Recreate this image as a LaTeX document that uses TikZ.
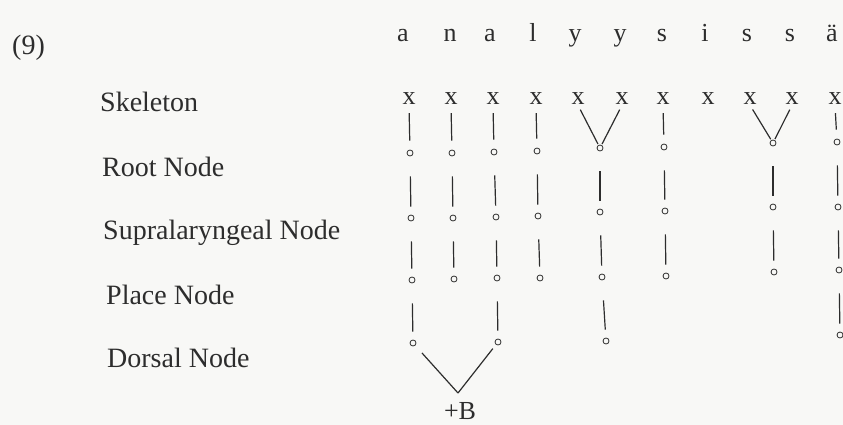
\documentclass[tikz,border=0pt]{standalone}
\usepackage{fontspec}
\setmainfont{Liberation Serif}
\definecolor{ink}{RGB}{45,45,45}
\definecolor{paper}{RGB}{248,248,246}
\begin{document}
\begin{tikzpicture}[x={(1pt,0)},y={(0,-1pt)},
  lbl/.style={anchor=base west,inner sep=0pt,text=ink,font=\fontsize{28}{30}\selectfont},
  seg/.style={anchor=base,inner sep=0pt,text=ink,font=\fontsize{26}{28}\selectfont},
  dot/.style={circle,draw=ink,line width=0.8pt,minimum size=6pt,inner sep=0pt},
  edge/.style={draw=ink,line width=1.2pt},
  xedge/.style={edge,shorten <=8pt,shorten >=9pt},
  vedge/.style={edge,shorten <=5pt,shorten >=1pt},
  dedge/.style={edge,shorten <=20pt,shorten >=8pt}]
\fill[paper] (0,0) rectangle (843,425);
\useasboundingbox (0,0) rectangle (843,425);
% labels
\node[lbl] (num) at (12,55) {(9)};
\node[lbl] (lskel) at (100,112) {Skeleton};
\node[lbl] (lroot) at (102,176) {Root Node};
\node[lbl] (lsupra) at (103,239) {Supralaryngeal Node};
\node[lbl] (lplace) at (106,304) {Place Node};
\node[lbl] (ldors) at (107,367) {Dorsal Node};
% segments
\node[seg] (s1) at (403,42) {a};
\node[seg] (s2) at (450,42) {n};
\node[seg] (s3) at (490,42) {a};
\node[seg] (s4) at (533,42) {l};
\node[seg] (s5) at (575,42) {y};
\node[seg] (s6) at (620,42) {y};
\node[seg] (s7) at (662,42) {s};
\node[seg] (s8) at (705,42) {i};
\node[seg] (s9) at (747,42) {s};
\node[seg] (s10) at (790,42) {s};
\node[seg] (s11) at (832,42) {ä};
% skeleton
\node[seg] (x1) at (409,105) {x};
\node[seg] (x2) at (451,105) {x};
\node[seg] (x3) at (493,105) {x};
\node[seg] (x4) at (536,105) {x};
\node[seg] (x5) at (578,105) {x};
\node[seg] (x6) at (622,105) {x};
\node[seg] (x7) at (663,105) {x};
\node[seg] (x8) at (708,105) {x};
\node[seg] (x9) at (750,105) {x};
\node[seg] (x10) at (792,105) {x};
\node[seg] (x11) at (835,105) {x};
% root nodes
\node[dot] (r1) at (410,153) {};
\node[dot] (r2) at (452,153) {};
\node[dot] (r3) at (494,152) {};
\node[dot] (r4) at (537,151) {};
\node[dot] (r5) at (600,148) {};
\node[dot] (r7) at (664,147) {};
\node[dot] (r9) at (773,143) {};
\node[dot] (r11) at (837,142) {};
% supralaryngeal nodes
\node[dot] (u1) at (411,218) {};
\node[dot] (u2) at (453,218) {};
\node[dot] (u3) at (496,217) {};
\node[dot] (u4) at (538,216) {};
\node[dot] (u5) at (600,212) {};
\node[dot] (u7) at (665,211) {};
\node[dot] (u9) at (773,207) {};
\node[dot] (u11) at (838,207) {};
% place nodes
\node[dot] (p1) at (412,280) {};
\node[dot] (p2) at (454,279) {};
\node[dot] (p3) at (497,278) {};
\node[dot] (p4) at (540,278) {};
\node[dot] (p5) at (602,277) {};
\node[dot] (p7) at (666,276) {};
\node[dot] (p9) at (774,272) {};
\node[dot] (p11) at (839,270) {};
% dorsal nodes
\node[dot] (d1) at (413,343) {};
\node[dot] (d3) at (498,342) {};
\node[dot] (d5) at (606,341) {};
\node[dot] (d11) at (840,335) {};
% +B
\coordinate (bv) at (458,393);
\node[seg] (plusB) at (460,419) {+B};
% skeleton to root
\foreach \i in {1,2,3,4,7,11} \draw[xedge] (x\i.south) -- (r\i);
\draw[vedge] (x5.south) -- (r5);
\draw[vedge] (x6.south) -- (r5);
\draw[vedge] (x9.south) -- (r9);
\draw[vedge] (x10.south) -- (r9);
% root to supra, supra to place
\foreach \i in {1,2,3,4,5,7,9,11} {
  \draw[dedge] (r\i) -- (u\i);
  \draw[dedge] (u\i) -- (p\i);
}
% place to dorsal
\foreach \i in {1,3,5,11} \draw[dedge] (p\i) -- (d\i);
% dorsal to +B
\draw[edge,shorten <=10pt] (d1) -- (bv);
\draw[edge,shorten <=5pt] (d3) -- (bv);
\end{tikzpicture}
\end{document}
